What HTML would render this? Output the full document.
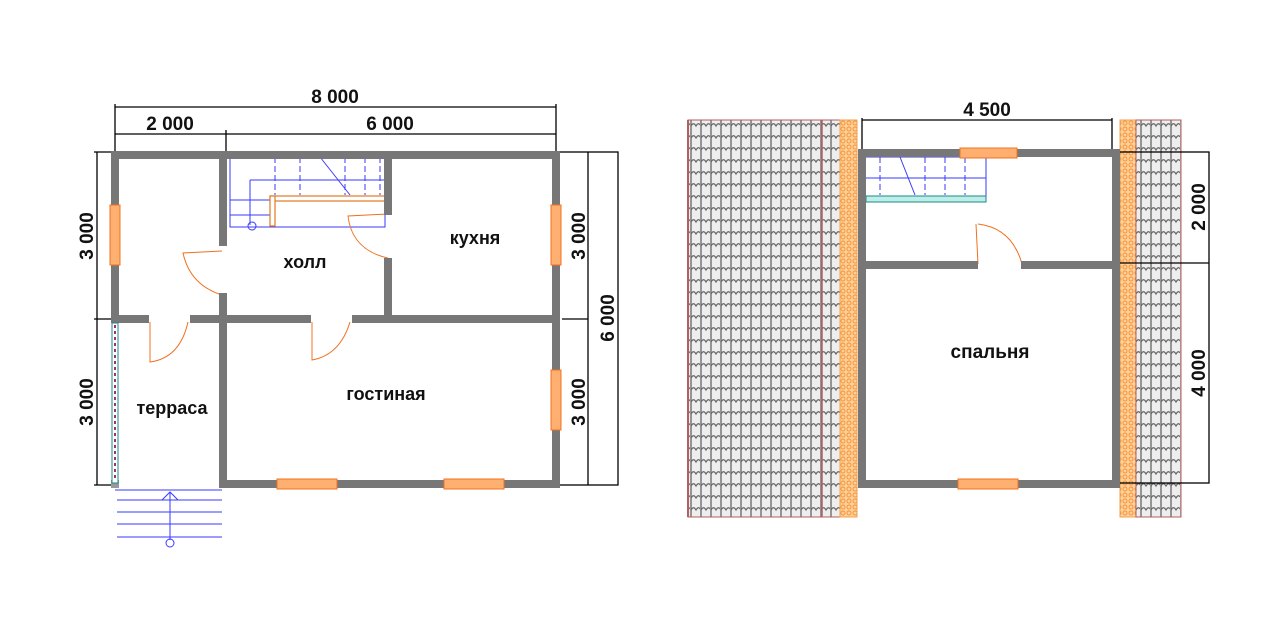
<!DOCTYPE html>
<html><head><meta charset="utf-8"><style>
html,body{margin:0;padding:0;background:#fff;}
svg{display:block;}
text{font-family:"Liberation Sans",sans-serif;font-weight:bold;fill:#111;}
</style></head><body>
<svg width="1280" height="640" viewBox="0 0 1280 640" xmlns="http://www.w3.org/2000/svg">
<defs>
<pattern id="tile" width="10" height="12" patternUnits="userSpaceOnUse">
<rect width="10" height="12" fill="#eeeeee"/>
<line x1="1" y1="0" x2="1" y2="12" stroke="#777" stroke-width="1.5"/>
<path d="M1 6 Q3.5 1.5 6 6 Q8.5 1.5 11 6" fill="none" stroke="#666" stroke-width="1.2"/>
</pattern>
<pattern id="brick" width="6" height="6" patternUnits="userSpaceOnUse">
<rect width="6" height="6" fill="#ffd09a"/>
<circle cx="3" cy="3" r="2" fill="none" stroke="#f59030" stroke-width="0.9"/>
</pattern>
</defs>

<!-- ===== LEFT PLAN ===== -->
<g stroke="#000" stroke-width="1.3" fill="none">
<line x1="115" y1="107" x2="556" y2="107"/>
<line x1="115" y1="104" x2="115" y2="152"/><line x1="556" y1="104" x2="556" y2="152"/>
<line x1="115" y1="134" x2="556" y2="134"/><line x1="226" y1="130" x2="226" y2="152"/>
<line x1="97" y1="152" x2="97" y2="485"/><line x1="94" y1="152" x2="115" y2="152"/>
<line x1="94" y1="319" x2="115" y2="319"/><line x1="94" y1="485" x2="115" y2="485"/>
<rect x="559" y="152" width="59" height="333"/><line x1="588" y1="152" x2="588" y2="485"/>
<line x1="562" y1="319" x2="588" y2="319"/>
</g>
<text x="335" y="103" font-size="19" text-anchor="middle">8 000</text>
<text x="170" y="130" font-size="19" text-anchor="middle">2 000</text>
<text x="390" y="130" font-size="19" text-anchor="middle">6 000</text>
<text transform="translate(93,236) rotate(-90)" font-size="19" text-anchor="middle">3 000</text>
<text transform="translate(93,402) rotate(-90)" font-size="19" text-anchor="middle">3 000</text>
<text transform="translate(585,236) rotate(-90)" font-size="19" text-anchor="middle">3 000</text>
<text transform="translate(585,402) rotate(-90)" font-size="19" text-anchor="middle">3 000</text>
<text transform="translate(614,318) rotate(-90)" font-size="19" text-anchor="middle">6 000</text>

<!-- stairs -->
<g stroke="#3a3aff" stroke-width="1" fill="none">
<rect x="230" y="157" width="155" height="70"/>
<line x1="250" y1="180" x2="385" y2="180"/><line x1="250" y1="180" x2="250" y2="225"/>
<line x1="230" y1="200" x2="270" y2="200"/><line x1="230" y1="215" x2="270" y2="215"/>
<line x1="275" y1="157" x2="275" y2="195" stroke-dasharray="6,3"/><line x1="300" y1="157" x2="300" y2="195" stroke-dasharray="6,3"/>
<line x1="320" y1="157" x2="350" y2="195"/><line x1="345" y1="157" x2="345" y2="195" stroke-dasharray="6,3"/>
<line x1="365" y1="157" x2="365" y2="195" stroke-dasharray="6,3"/><line x1="380" y1="157" x2="380" y2="195" stroke-dasharray="6,3"/>
<circle cx="252" cy="226" r="4"/>
</g>
<g fill="#fff" stroke="#e07a20" stroke-width="1.2">
<rect x="270" y="196" width="115" height="5"/><rect x="270" y="196" width="5" height="30"/>
</g>
<!-- doors -->
<g stroke="#f07020" stroke-width="1" fill="none">
<path d="M222 251 L183 253 Q190 285 222 295"/>
<path d="M388 214 L348 216 Q352 250 388 258"/>
<path d="M150 322 L150 362 Q180 358 188 322"/>
<path d="M312 322 L312 360 Q340 355 350 322"/>
<path d="M976 224 L978 264 M978 224 Q1012 228 1022 264"/>
</g>
<!-- walls left -->
<g fill="#777">
<rect x="111" y="151" width="449" height="8"/>
<rect x="111" y="480" width="8" height="8" fill="#999"/>
<rect x="219" y="480" width="341" height="8"/>
<rect x="111" y="151" width="8" height="170"/>
<rect x="552" y="151" width="8" height="337"/>
<rect x="219" y="151" width="8" height="95"/>
<rect x="219" y="293" width="8" height="195"/>
<rect x="384" y="151" width="8" height="64"/>
<rect x="384" y="258" width="8" height="64"/>
<rect x="111" y="315" width="38" height="8"/>
<rect x="190" y="315" width="121" height="8"/>
<rect x="352" y="315" width="208" height="8"/>
</g>
<!-- windows left -->
<g fill="#ffb070" stroke="#f07020" stroke-width="1">
<rect x="110" y="205" width="10" height="60"/>
<rect x="551" y="205" width="10" height="60"/>
<rect x="551" y="370" width="10" height="60"/>
<rect x="277" y="479" width="60" height="10"/>
<rect x="444" y="479" width="60" height="10"/>
</g>
<rect x="112" y="323" width="6" height="160" fill="#fff" stroke="#1a8a8a"/>
<line x1="115" y1="325" x2="115" y2="480" stroke="#a0307a" stroke-width="2" stroke-dasharray="3,3"/>
<!-- terrace steps -->
<g stroke="#3a3aff" stroke-width="1" fill="none">
<line x1="115" y1="490" x2="222" y2="490"/>
<line x1="117" y1="500" x2="222" y2="500"/><line x1="117" y1="512" x2="222" y2="512"/>
<line x1="117" y1="524" x2="222" y2="524"/><line x1="117" y1="537" x2="222" y2="537"/>
<line x1="170" y1="492" x2="170" y2="540"/><path d="M162 500 L170 492 L178 500"/>
<circle cx="170" cy="543" r="4"/>
</g>
<text x="305" y="268" font-size="18" text-anchor="middle">холл</text>
<text x="475" y="244" font-size="18" text-anchor="middle">кухня</text>
<text x="172" y="414" font-size="18" text-anchor="middle">терраса</text>
<text x="386" y="400" font-size="18" text-anchor="middle">гостиная</text>

<!-- ===== RIGHT PLAN ===== -->
<rect x="688" y="120" width="152" height="397" fill="url(#tile)" stroke="#b06060"/>
<line x1="688" y1="120" x2="688" y2="517" stroke="#b06060" stroke-width="2"/>
<line x1="822" y1="120" x2="822" y2="517" stroke="#b06060" stroke-width="1.5"/>
<rect x="840" y="120" width="17" height="397" fill="url(#brick)" stroke="#f0a050"/>
<rect x="1120" y="120" width="16" height="397" fill="url(#brick)" stroke="#f0a050"/>
<rect x="1136" y="120" width="45" height="397" fill="url(#tile)" stroke="#b06060"/>

<g stroke="#000" stroke-width="1.3" fill="none">
<line x1="862" y1="120" x2="1112" y2="120"/><line x1="862" y1="118" x2="862" y2="150"/><line x1="1112" y1="118" x2="1112" y2="150"/>
<rect x="1118" y="152" width="91" height="331"/><line x1="1118" y1="263" x2="1209" y2="263"/>
</g>
<text x="987" y="116" font-size="19" text-anchor="middle">4 500</text>
<text transform="translate(1205,207) rotate(-90)" font-size="19" text-anchor="middle">2 000</text>
<text transform="translate(1205,373) rotate(-90)" font-size="19" text-anchor="middle">4 000</text>

<g stroke="#3a3aff" stroke-width="1" fill="none">
<rect x="864" y="157" width="122" height="40"/>
<line x1="880" y1="157" x2="880" y2="195" stroke-dasharray="6,3"/><line x1="900" y1="157" x2="915" y2="195"/>
<line x1="925" y1="157" x2="925" y2="195" stroke-dasharray="6,3"/><line x1="945" y1="157" x2="945" y2="195" stroke-dasharray="6,3"/>
<line x1="965" y1="157" x2="965" y2="195" stroke-dasharray="6,3"/><line x1="864" y1="178" x2="986" y2="178"/>
<line x1="864" y1="200" x2="864" y2="230"/>
</g>
<rect x="866" y="196" width="120" height="6" fill="#bfeee8" stroke="#1a8a8a"/>
<g fill="#777">
<rect x="858" y="149" width="262" height="8"/>
<rect x="858" y="480" width="262" height="8"/>
<rect x="858" y="149" width="8" height="339"/>
<rect x="1112" y="149" width="8" height="339"/>
<rect x="866" y="261" width="112" height="8"/>
<rect x="1021" y="261" width="93" height="8"/>
</g>
<g fill="#ffb070" stroke="#f07020" stroke-width="1">
<rect x="960" y="148" width="57" height="10"/>
<rect x="958" y="479" width="60" height="10"/>
</g>
<text x="990" y="358" font-size="19" text-anchor="middle">спальня</text>
</svg>
</body></html>
